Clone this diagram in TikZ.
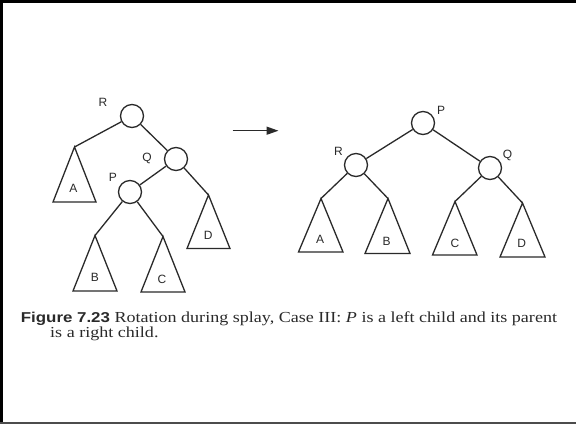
\documentclass[tikz,border=0pt]{standalone}
\usepackage{fontspec}
\setmainfont{Liberation Serif}
\newfontfamily\helv{Liberation Sans}
\usetikzlibrary{arrows.meta}
\definecolor{ink}{HTML}{2A2A2A}
\begin{document}
\begin{tikzpicture}[x=1pt,y=-1pt,
  vertex/.style={circle,draw=ink,line width=1.3pt,minimum size=23pt,inner sep=0pt,fill=white},
  edge/.style={draw=ink,line width=1.3pt},
  subtree/.style={draw=ink,line width=1.3pt,line join=miter},
  tag/.style={font=\helv\fontsize{12}{12}\selectfont,text=ink,inner sep=0pt},
  caption/.style={anchor=base west,inner sep=0pt,text=ink}]
\useasboundingbox (0,0) rectangle (576,424);
\fill[white] (0,0) rectangle (576,424);
% page frame: top, left and bottom edges
\draw[black,line width=3pt] (0,1.5) -- (576,1.5);
\draw[black,line width=3pt] (1.5,0) -- (1.5,424);
\draw[black!70,line width=1.5pt] (0,423.2) -- (576,423.2);

% ---------- tree before the rotation ----------
\node[vertex] (R1) at (132,116) {};
\node[vertex] (Q1) at (176,159) {};
\node[vertex] (P1) at (130,192) {};
\node[tag] (lR1) at (103,102) {R};
\node[tag] (lQ1) at (147,158) {Q};
\node[tag] (lP1) at (113,177) {P};
\coordinate (A1) at (74.5,147);
\coordinate (B1) at (95,235.5);
\coordinate (C1) at (163,236.5);
\coordinate (D1) at (208.5,195);
\draw[subtree] (A1) -- ++(-21.5,55) -- ++(43,0) -- cycle;
\draw[subtree] (B1) -- ++(-22,55.5) -- ++(44,0) -- cycle;
\draw[subtree] (C1) -- ++(-22,55.5) -- ++(44,0) -- cycle;
\draw[subtree] (D1) -- ++(-21.5,53.5) -- ++(43,0) -- cycle;
\node[tag] (tA1) at (73.5,188) {A};
\node[tag] (tB1) at (95,277) {B};
\node[tag] (tC1) at (162,279) {C};
\node[tag] (tD1) at (208.3,235) {D};
\draw[edge] (R1) -- (A1);
\draw[edge] (R1) -- (Q1);
\draw[edge] (Q1) -- (P1);
\draw[edge] (Q1) -- (D1);
\draw[edge] (P1) -- (B1);
\draw[edge] (P1) -- (C1);

% ---------- rotation arrow ----------
\coordinate (arrS) at (232.5,130.7);
\coordinate (arrE) at (278.5,130.7);
\draw[ink,line width=1.5pt,-{Triangle[length=12pt,width=8pt]}] (arrS) -- (arrE);

% ---------- tree after the rotation ----------
\node[vertex] (P2) at (423,123) {};
\node[vertex] (R2) at (356,165) {};
\node[vertex] (Q2) at (490,168) {};
\node[tag] (lP2) at (441,110) {P};
\node[tag] (lR2) at (338.5,151.5) {R};
\node[tag] (lQ2) at (507.5,155.5) {Q};
\coordinate (A2) at (321,198.5);
\coordinate (B2) at (388,198.5);
\coordinate (C2) at (455,201.5);
\coordinate (D2) at (522.5,203);
\draw[subtree] (A2) -- ++(-22.5,53.5) -- ++(44.5,0) -- cycle;
\draw[subtree] (B2) -- ++(-23,55) -- ++(45,0) -- cycle;
\draw[subtree] (C2) -- ++(-22.5,53.5) -- ++(44.5,0) -- cycle;
\draw[subtree] (D2) -- ++(-22.5,54) -- ++(45,0) -- cycle;
\node[tag] (tA2) at (320,239.5) {A};
\node[tag] (tB2) at (386.7,241) {B};
\node[tag] (tC2) at (455,243) {C};
\node[tag] (tD2) at (521.7,243.5) {D};
\draw[edge] (P2) -- (R2);
\draw[edge] (P2) -- (Q2);
\draw[edge] (R2) -- (A2);
\draw[edge] (R2) -- (B2);
\draw[edge] (Q2) -- (C2);
\draw[edge] (Q2) -- (D2);

% ---------- caption ----------
\node[caption] (cap1) at (20.7,322.5)
  {\scalebox{1.18}[1]{\fontsize{15.3}{15.3}\selectfont{\helv\bfseries\fontsize{14.3}{14.3}\selectfont Figure 7.23} Rotation during splay, Case III: \textit{P} is a left child and its parent}};
\node[caption] (cap2) at (50,337.5)
  {\scalebox{1.18}[1]{\fontsize{15.3}{15.3}\selectfont is a right child.}};
\end{tikzpicture}
\end{document}
